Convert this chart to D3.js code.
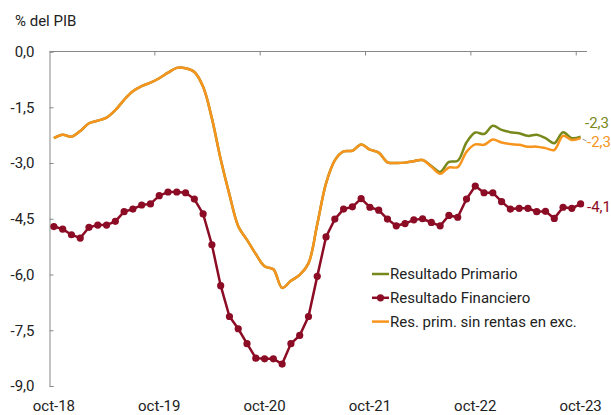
<!DOCTYPE html>
<html>
<head>
<meta charset="utf-8">
<script src="https://cdn.jsdelivr.net/npm/d3@7"></script>
<style>
  body { margin: 0; background: #fff; }
  text { font-family: Roboto, "Noto Sans", sans-serif; fill: #222; }
</style>
</head>
<body>
<div id="chart"></div>
<script>
// monthly, oct-18 .. oct-23
const months = d3.timeMonth.range(new Date(2018, 9, 1), new Date(2023, 10, 1)).map(d3.timeFormat("%Y-%m"));
const tickMonths = ["2018-10", "2019-10", "2020-10", "2021-10", "2022-10", "2023-10"];
const tickLabels = ["oct-18", "oct-19", "oct-20", "oct-21", "oct-22", "oct-23"];
const yTicks = [0, -1.5, -3, -4.5, -6, -7.5, -9];

// Resultado Primario (only differs from the orange series at the end)
const primario = [
  -2.33, -2.24, -2.29, -2.14, -1.93, -1.86, -1.78, -1.58, -1.30, -1.07,
  -0.93, -0.84, -0.72, -0.57, -0.44, -0.45, -0.55, -0.95, -1.80, -2.90,
  -3.85, -4.70, -5.07, -5.45, -5.78, -5.86, -6.36, -6.17, -6.01, -5.70,
  -4.65, -3.55, -2.93, -2.69, -2.67, -2.50, -2.64, -2.72, -2.98, -3.00,
  -2.99, -2.95, -2.92, -3.08, -3.24, -2.97, -2.94, -2.45, -2.18, -2.22,
  -2.00, -2.11, -2.17, -2.20, -2.27, -2.24, -2.33, -2.47, -2.17, -2.33,
  -2.29
];
// Resultado Financiero
const financiero = [
  -4.71, -4.78, -4.93, -5.02, -4.73, -4.67, -4.67, -4.57, -4.31, -4.24,
  -4.13, -4.10, -3.88, -3.78, -3.78, -3.80, -3.97, -4.37, -5.20, -6.30,
  -7.13, -7.46, -7.86, -8.25, -8.27, -8.27, -8.41, -7.86, -7.64, -7.13,
  -6.05, -4.99, -4.51, -4.24, -4.18, -3.96, -4.19, -4.27, -4.51, -4.69,
  -4.63, -4.53, -4.50, -4.60, -4.69, -4.41, -4.46, -3.97, -3.62, -3.80,
  -3.80, -4.04, -4.24, -4.22, -4.22, -4.31, -4.30, -4.49, -4.19, -4.22,
  -4.10
];
// Res. prim. sin rentas en exc.
const sinRentas = [
  -2.33, -2.24, -2.29, -2.14, -1.93, -1.86, -1.78, -1.58, -1.30, -1.07,
  -0.93, -0.84, -0.72, -0.57, -0.44, -0.45, -0.55, -0.95, -1.80, -2.90,
  -3.85, -4.70, -5.07, -5.45, -5.78, -5.86, -6.36, -6.17, -6.01, -5.70,
  -4.65, -3.55, -2.93, -2.69, -2.67, -2.50, -2.64, -2.72, -2.98, -3.00,
  -2.99, -2.95, -2.92, -3.10, -3.29, -3.12, -3.11, -2.70, -2.50, -2.51,
  -2.37, -2.45, -2.49, -2.51, -2.56, -2.56, -2.60, -2.65, -2.27, -2.38,
  -2.33
];

const seriesNames = ["Resultado Primario", "Resultado Financiero", "Res. prim. sin rentas en exc."];
const seriesColors = ["#77891c", "#8b0c24", "#f7941d"];
const endLabels = ["-2,3", "-4,1", "-2,3"];

let width = 611, height = 415;
let fontSize = "15px";

let svg = d3.select("#chart")
    .append("svg")
    .attr("width", width)
    .attr("height", height);

let x = d3.scaleBand()
    .domain(months)
    .range([49.5, 585])
    .padding(0);
let cx = (m) => x(m) + x.bandwidth() / 2;

let y = d3.scaleLinear()
    .domain([-9, 0])
    .range([386, 51.5]);

// unit label
svg.append("text")
    .attr("x", 15)
    .attr("y", 26)
    .style("font-size", fontSize)
    .text("% del PIB");

// y axis, ticks pointing in
let yAxis = svg.append("g")
    .attr("transform", "translate(49.5,0)")
    .call(d3.axisLeft(y)
        .tickValues(yTicks)
        .tickSize(-4)
        .tickPadding(15)
        .tickFormat(d => d3.format(".1f")(d).replace(".", ",").replace("−", "-")));
yAxis.select(".domain").attr("stroke", "#888");
yAxis.selectAll(".tick line").attr("stroke", "#888");
yAxis.selectAll(".tick text")
    .style("font-size", fontSize)
    .style("font-family", "Roboto, sans-serif")
    .attr("fill", "#222");

// x axis sits on the zero line at the top
svg.append("line")
    .attr("x1", 49.5).attr("x2", 587)
    .attr("y1", y(0)).attr("y2", y(0))
    .attr("stroke", "#888");
svg.selectAll(".xtick")
    .data(tickMonths.slice(1))
    .enter()
    .append("line")
    .attr("x1", d => x(d)).attr("x2", d => x(d))
    .attr("y1", y(0)).attr("y2", y(0) + 4)
    .attr("stroke", "#888");
svg.selectAll(".xlabel")
    .data(tickMonths)
    .enter()
    .append("text")
    .attr("x", d => cx(d))
    .attr("y", 411)
    .attr("text-anchor", "middle")
    .style("font-size", fontSize)
    .text((d, i) => tickLabels[i]);

let smooth = d3.line()
    .x((d, i) => cx(months[i]))
    .y(d => y(d))
    .curve(d3.curveCatmullRom.alpha(0.5));
let straight = d3.line()
    .x((d, i) => cx(months[i]))
    .y(d => y(d));

// Resultado Primario
svg.append("path")
    .datum(primario)
    .attr("fill", "none")
    .attr("stroke", seriesColors[0])
    .attr("stroke-width", 2.5)
    .attr("d", smooth);

// Resultado Financiero
svg.append("path")
    .datum(financiero)
    .attr("fill", "none")
    .attr("stroke", seriesColors[1])
    .attr("stroke-width", 2.5)
    .attr("d", straight);
svg.selectAll(".dot")
    .data(financiero)
    .enter()
    .append("circle")
    .attr("cx", (d, i) => cx(months[i]))
    .attr("cy", d => y(d))
    .attr("r", 3.6)
    .attr("fill", seriesColors[1]);

// Res. prim. sin rentas en exc.
svg.append("path")
    .datum(sinRentas)
    .attr("fill", "none")
    .attr("stroke", seriesColors[2])
    .attr("stroke-width", 2.5)
    .attr("d", smooth);

// end labels
let last = months[months.length - 1];
let lastVals = [primario[60], financiero[60], sinRentas[60]];
let labelDy = [-14, 3, 4];
svg.append("line")
    .attr("x1", cx(last) + 2).attr("x2", cx(last) + 6)
    .attr("y1", y(lastVals[2]) + 1).attr("y2", y(lastVals[2]) + 3)
    .attr("stroke", "#999")
    .attr("stroke-width", 1);
svg.selectAll(".endlabel")
    .data(lastVals)
    .enter()
    .append("text")
    .attr("x", (d, i) => i === 0 ? 585 : 587)
    .attr("y", (d, i) => y(d) + labelDy[i])
    .attr("dy", "0.35em")
    .style("font-size", fontSize)
    .style("fill", (d, i) => seriesColors[i])
    .text((d, i) => endLabels[i]);

// legend
let legend = svg.append("g")
    .attr("transform", "translate(372,274)");
let rows = legend.selectAll("g")
    .data(seriesNames)
    .enter()
    .append("g")
    .attr("transform", (d, i) => "translate(0," + (i * 23.8) + ")");
rows.append("line")
    .attr("x1", 0).attr("x2", 17)
    .attr("stroke", (d, i) => seriesColors[i])
    .attr("stroke-width", 2.5);
rows.filter((d, i) => i === 1)
    .append("circle")
    .attr("cx", 8.5)
    .attr("r", 3.6)
    .attr("fill", seriesColors[1]);
rows.append("text")
    .attr("x", 18)
    .attr("dy", "0.35em")
    .style("font-size", fontSize)
    .text(d => d);
</script>
</body>
</html>
